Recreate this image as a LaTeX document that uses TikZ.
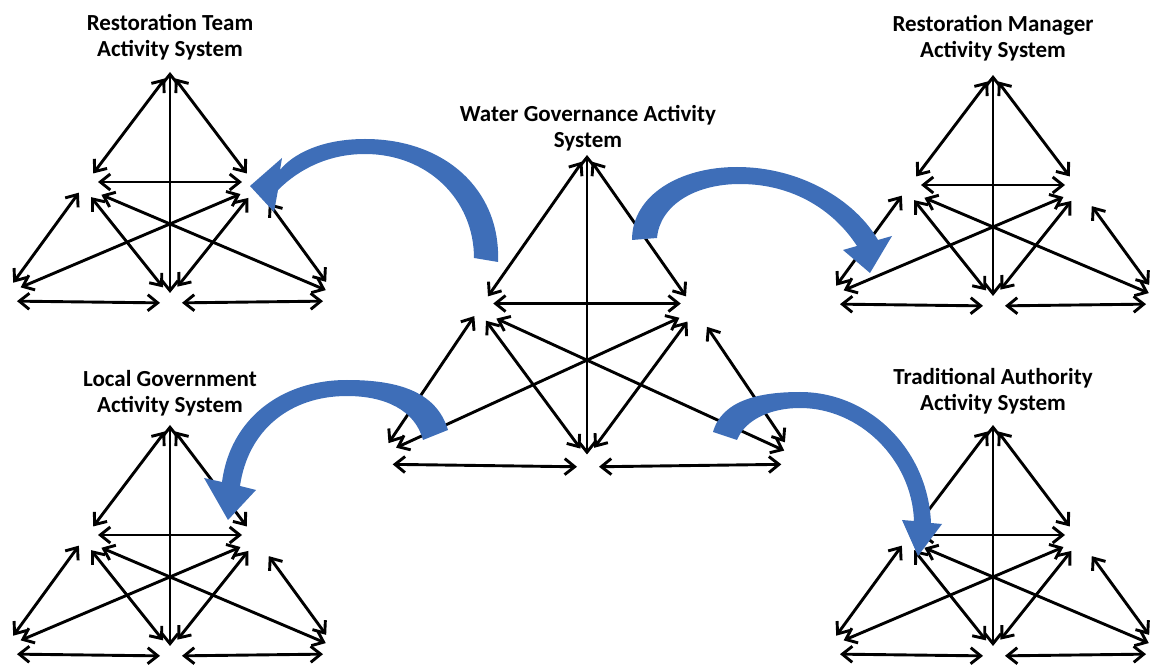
\documentclass[tikz,border=0pt]{standalone}
\usepackage{fontspec}
\setmainfont{Carlito}
\usetikzlibrary{arrows.meta}
\definecolor{flowblue}{RGB}{62,110,184}

\tikzset{
  link/.style={line width=1.45pt,
    {Straight Barb[length=5pt,width=8pt]}-{Straight Barb[length=5pt,width=8pt]}},
  gap/.style 2 args={shorten <=#1, shorten >=#2},
  title/.style={font=\bfseries\fontsize{11.5pt}{13pt}\selectfont, align=center, inner sep=0pt},
  flow/.style={fill=flowblue},
  % an activity system: six corners joined pairwise by double arrows
  actsys/.pic={
    \coordinate (-T)  at (0,0);
    \coordinate (-L)  at (-87,115);
    \coordinate (-R)  at (87,115);
    \coordinate (-BL) at (-165,222);
    \coordinate (-BM) at (0,224);
    \coordinate (-BR) at (165,222);
    \draw[link, gap={4pt}{8.5pt}] (-T) -- (-L);
    \draw[link, gap={4pt}{8.5pt}] (-T) -- (-R);
    \draw[link, gap={0pt}{1.5pt}] (-T) -- (-BM);
    \draw[link, gap={7.5pt}{7.5pt}] ([yshift=2.5pt]-L) -- ([yshift=2.5pt]-R);
    \draw[link, gap={7pt}{3.5pt}] (-BL) -- (-L);
    \draw[link, gap={6.5pt}{5.5pt}] (-L) -- (-BM);
    \draw[link, gap={10pt}{5pt}] (-L) -- (-BR);
    \draw[link, gap={9pt}{8.5pt}] (-R) -- (-BL);
    \draw[link, gap={7pt}{6pt}] (-R) -- (-BM);
    \draw[link, gap={10pt}{7.5pt}] (-R) -- (-BR);
    \draw[link, gap={6pt}{5pt}] ([yshift=-3.5pt]-BL) -- ([yshift=-3.5pt]-BM);
    \draw[link, gap={6pt}{6pt}] ([yshift=-3.5pt]-BM) -- ([yshift=-3.5pt]-BR);
  }
}

\begin{document}
\begin{tikzpicture}[x=0.5pt,y=-0.5pt]
\useasboundingbox (0,0) rectangle (1153,668);
\clip (0,0) rectangle (1153,668);

% the five activity systems
\pic (rt) at (170,72) {actsys};
\pic (rm) at (993,75) {actsys};
\pic (lg) at (170,425) {actsys};
\pic (ta) at (993,425) {actsys};
\pic[xscale=1.25,yscale=1.35] (wg) at (587,155) {actsys};

% titles
\node[title] (rt-title) at (170,37) {Restoration Team\\Activity System};
\node[title] (rm-title) at (993,38) {Restoration Manager\\Activity System};
\node[title] (lg-title) at (170,393) {Local Government\\Activity System};
\node[title] (ta-title) at (993,391) {Traditional Authority\\Activity System};
\node[title] (wg-title) at (588,128) {Water Governance Activity\\System};

% curved block arrows from the water governance system
% to the restoration team
\fill[flow] (498,262) .. controls (501,190) and (445,139) .. (365,139)
  .. controls (320,139) and (292,155) .. (280,170)
  -- (282,158) -- (250,186) -- (274,212) -- (278,190)
  .. controls (300,168) and (330,154) .. (365,154)
  .. controls (428,154) and (474,200) .. (474,258) -- cycle;
% to the restoration manager
\fill[flow] (632,240) .. controls (632,195) and (680,167) .. (737,167)
  .. controls (800,167) and (855,200) .. (878,240)
  -- (892,236) -- (870,273) -- (843,250) -- (857,246)
  .. controls (835,212) and (795,184) .. (740,184)
  .. controls (695,184) and (660,205) .. (657,238) -- cycle;
% to the local government
\fill[flow] (448,430) .. controls (436,390) and (395,380) .. (347,380)
  .. controls (280,380) and (230,420) .. (222,482)
  -- (204,478) -- (228,520) -- (256,490) -- (240,486)
  .. controls (248,430) and (290,396) .. (347,396)
  .. controls (385,396) and (415,410) .. (423,440) -- cycle;
% to the traditional authority
\fill[flow] (713,432) .. controls (722,400) and (760,392) .. (800,392)
  .. controls (870,392) and (928,450) .. (931,523)
  -- (942,524) -- (918,556) -- (902,520) -- (914,521)
  .. controls (912,460) and (860,408) .. (800,408)
  .. controls (770,408) and (745,420) .. (737,440) -- cycle;
\end{tikzpicture}
\end{document}
